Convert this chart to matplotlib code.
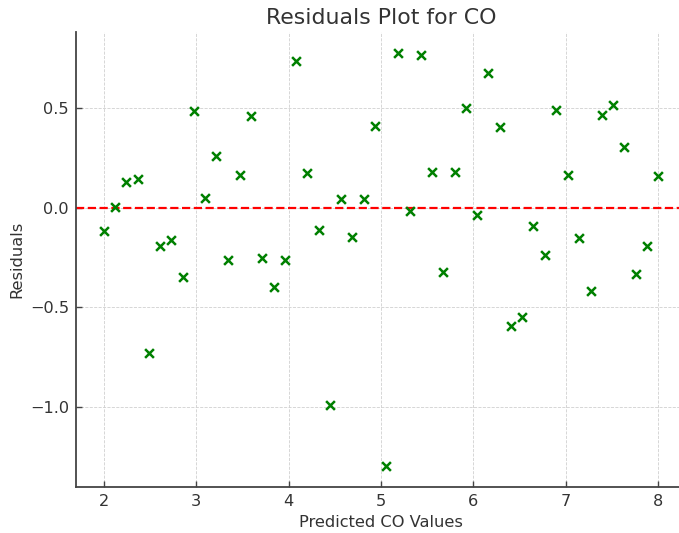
import matplotlib.pyplot as plt

# predicted CO values (x) and residuals (y)
predicted = [2.00, 2.12, 2.24, 2.37, 2.49, 2.61, 2.73, 2.86, 2.98, 3.10,
             3.22, 3.35, 3.47, 3.59, 3.71, 3.84, 3.96, 4.08, 4.20, 4.33,
             4.45, 4.57, 4.69, 4.82, 4.94, 5.06, 5.18, 5.31, 5.43, 5.55,
             5.67, 5.80, 5.92, 6.04, 6.16, 6.29, 6.41, 6.53, 6.65, 6.78,
             6.90, 7.02, 7.14, 7.27, 7.39, 7.51, 7.63, 7.76, 7.88, 8.00]
residuals = [-0.116, 0.005, 0.13, 0.146, -0.73, -0.19, -0.16, -0.35, 0.485, 0.05,
             0.26, -0.26, 0.165, 0.46, -0.25, -0.40, -0.26, 0.74, 0.177, -0.11,
             -0.99, 0.045, -0.148, 0.045, 0.41, -1.30, 0.78, -0.015, 0.77, 0.18,
             -0.32, 0.18, 0.50, -0.035, 0.68, 0.405, -0.595, -0.55, -0.09, -0.235,
             0.49, 0.165, -0.15, -0.42, 0.465, 0.515, 0.305, -0.335, -0.19, 0.16]

txt = '#333333'

fig = plt.figure(figsize=(6.79, 5.33), dpi=100)
ax = fig.add_axes([0.112, 0.086, 0.898, 0.854])

ax.scatter(predicted, residuals, marker='x', color='green', s=40, linewidths=1.8, zorder=3)
ax.axhline(0, color='red', linestyle='--', linewidth=1.6, zorder=2)

ax.set_xlim(1.7, 8.3)
ax.set_ylim(-1.404, 0.884)
ax.set_xticks([2, 3, 4, 5, 6, 7, 8])
ax.set_yticks([-1.0, -0.5, 0.0, 0.5])
ax.set_yticklabels(['\u22121.0', '\u22120.5', '0.0', '0.5'])

ax.grid(True, linestyle='--', linewidth=0.6, color='#d0d0d0')
ax.set_axisbelow(True)
for s in ['top', 'right']:
    ax.spines[s].set_visible(False)
for s in ['left', 'bottom']:
    ax.spines[s].set_color('#444444')
    ax.spines[s].set_linewidth(1.3)
ax.tick_params(direction='in', length=4, width=1.0, colors='#444444',
               labelsize=11.6, labelcolor=txt, pad=5)

ax.set_title('Residuals Plot for CO', fontsize=15.8, color=txt, pad=6)
ax.set_xlabel('Predicted CO Values', fontsize=11.7, color=txt, labelpad=4)
ax.set_ylabel('Residuals', fontsize=11.7, color=txt, labelpad=4)

fig.savefig('out.png', dpi=100)
